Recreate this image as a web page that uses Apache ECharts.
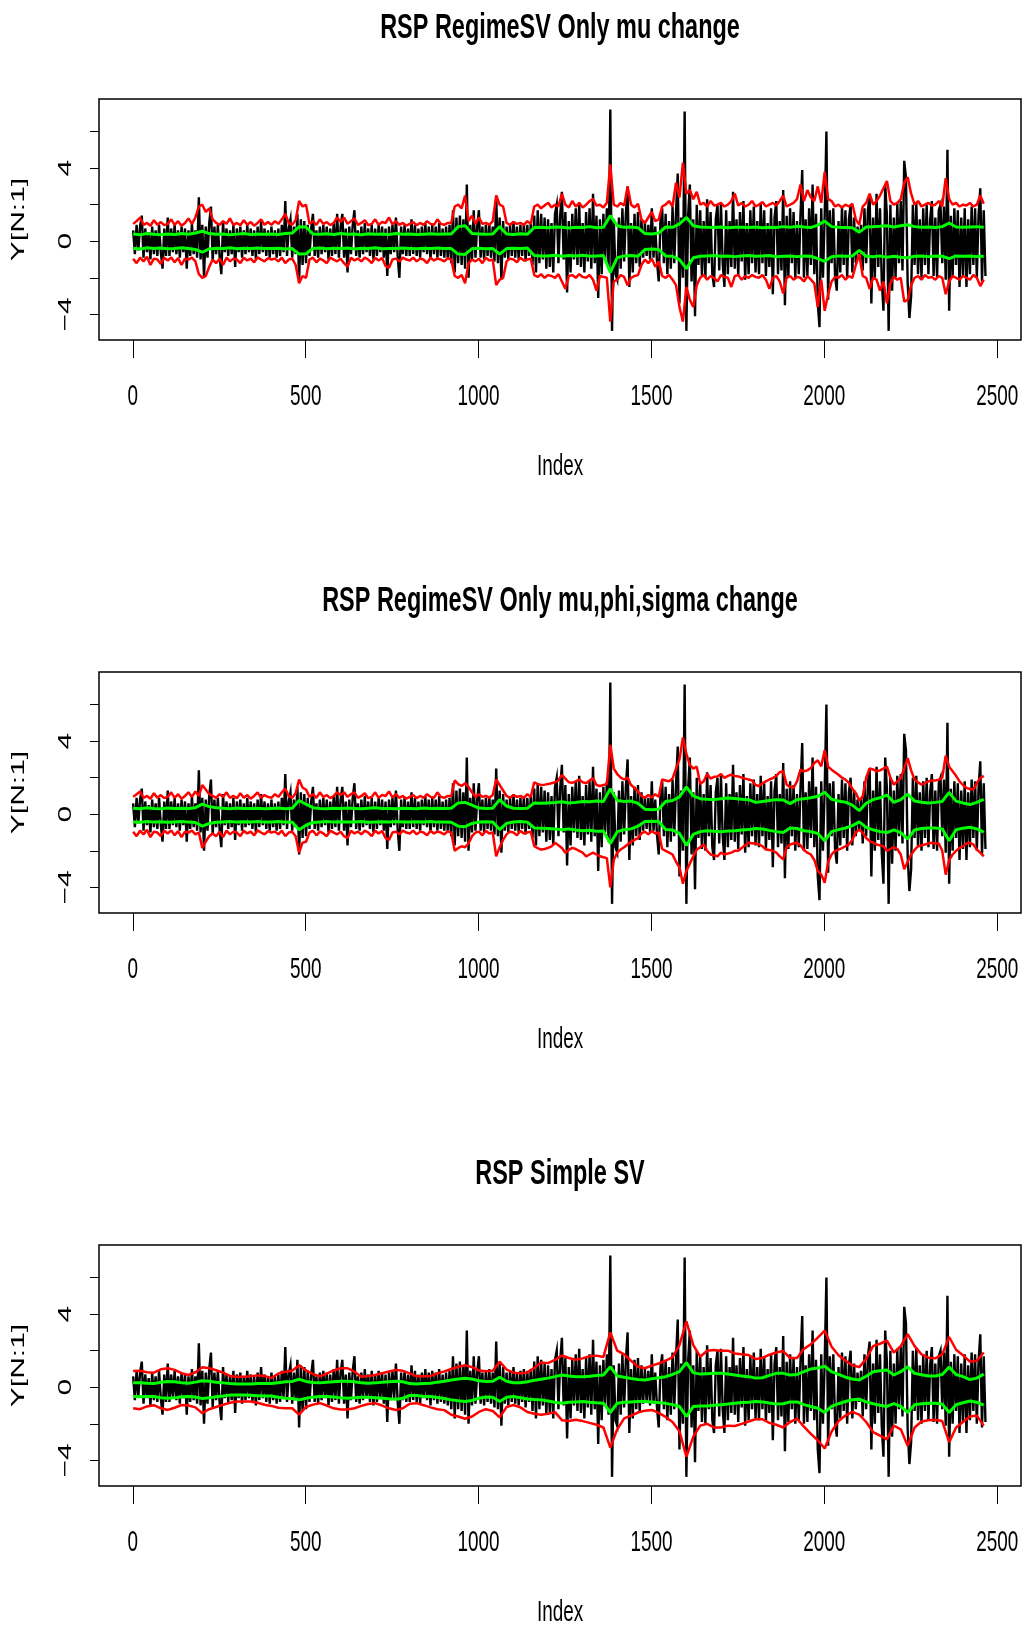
<!DOCTYPE html>
<html><head><meta charset="utf-8">
<script src="https://cdn.jsdelivr.net/npm/echarts@6/dist/echarts.min.js"></script>
<style>html,body{margin:0;padding:0;background:#fff}#c{width:1027px;height:1631px}</style>
</head><body><div id="c"></div>
<script>
// ---------------- DATA ----------------
const titles = ['RSP RegimeSV Only mu change', 'RSP RegimeSV Only mu,phi,sigma change', 'RSP Simple SV'];
const xAxisName = 'Index';
const yAxisName = 'Y[N:1]';
const xTicks = [0, 500, 1000, 1500, 2000, 2500];
const yTicks = [-4, -2, 0, 2, 4, 6];
const yTickLabels = [-4, 0, 4];
const nObs = 2470;

// observed series Y, sampled every 5 indices starting at 1
const blackY = [
0.6,-0.7,0.9,-0.5,0.8,1.4,-0.9,0.7,-0.6,0.5,-1.0,0.8,-0.7,0.6,-0.8,0.9,-0.6,-1.5,0.7,-0.8,
1.3,-0.8,0.7,-0.6,0.9,-0.7,0.6,-0.9,0.8,-0.6,0.7,-1.5,0.6,-0.8,1.0,-0.7,0.6,-0.9,2.4,-1.0,
0.9,-2.0,0.8,-0.9,1.0,1.9,-1.1,0.8,-0.7,0.9,-0.8,-1.8,1.1,-0.6,0.7,-0.8,0.6,-0.7,0.9,-1.4,
0.7,-0.6,0.8,-0.9,0.6,-0.7,0.9,-0.6,0.7,-0.8,0.6,-1.0,0.8,-0.7,1.1,-0.6,0.7,-0.8,0.6,-0.9,
0.8,-0.7,0.6,-0.9,0.7,-0.8,0.9,-0.6,2.2,-0.8,0.7,1.2,-0.9,0.8,-0.7,1.5,-2.2,1.2,-1.3,1.1,
-1.2,0.9,-0.8,0.7,1.5,-0.8,0.6,-0.9,0.8,-0.7,0.9,-0.6,0.8,-1.0,0.7,-0.8,1.0,-0.7,1.5,-0.9,
0.8,1.5,-0.9,0.7,-1.7,0.8,-0.7,0.9,1.7,-0.8,0.6,-0.9,0.8,-0.7,1.0,-0.6,0.7,-0.8,0.9,-1.0,
0.7,-0.8,0.9,-0.6,0.8,-0.9,0.7,-1.9,0.8,-0.7,0.9,-0.6,1.3,-0.8,-2.0,0.8,-0.7,0.9,-0.8,0.7,
-0.8,1.2,-0.7,0.9,-0.8,0.7,-0.9,0.8,-0.6,1.0,-0.7,0.8,-1.0,0.9,-0.7,0.8,-0.9,1.0,-0.8,0.7,
-0.9,0.8,-1.0,0.9,-1.2,1.7,-1.7,1.3,-1.2,1.4,-1.3,1.2,-1.5,3.1,-2.0,0.9,-1.0,1.7,-0.9,0.8,
1.7,-0.9,0.8,-1.0,0.9,-0.8,1.0,-0.9,0.8,-1.1,2.5,-1.2,1.3,-2.1,1.1,-0.9,0.8,-1.0,0.9,-0.8,
1.1,-0.9,0.8,-1.0,0.9,-0.8,1.0,-1.1,0.9,-0.8,1.0,-1.3,1.4,-1.7,1.7,-1.2,1.5,-1.0,1.3,-1.5,
1.2,-1.4,1.0,-1.7,1.5,2.0,-1.2,1.4,2.7,-1.0,1.6,-2.8,1.1,-1.7,1.5,-1.0,1.8,-1.3,2.1,-1.4,
1.0,-1.7,1.6,-1.1,1.8,-1.5,2.6,-1.2,1.4,-3.1,1.2,-1.8,1.5,-1.0,1.8,-1.5,7.2,-4.9,1.2,-1.8,
-2.1,1.3,-1.5,1.8,-1.1,1.5,3.0,-2.5,1.0,-1.7,1.5,-1.2,1.6,-1.4,1.2,-0.9,1.0,-0.8,0.9,-1.0,
1.8,-0.9,0.8,-1.1,-2.2,1.1,1.8,-1.2,1.5,-1.8,1.1,-1.5,1.9,-1.2,1.6,3.7,-3.4,1.3,-2.0,7.1,
-4.9,1.4,3.1,-2.2,1.2,-4.1,2.0,-1.3,1.7,-1.9,1.1,-2.0,2.3,-1.2,1.6,-1.8,-2.5,1.2,2.0,-1.6,
2.1,-1.2,-2.5,1.7,-1.8,1.1,-1.4,2.7,-1.5,1.2,-1.9,1.6,-1.1,2.2,-2.1,1.0,-1.8,1.7,-1.2,1.9,
-1.7,1.1,-1.8,2.1,-1.2,1.7,-1.9,1.0,-1.4,1.8,-2.9,1.3,2.2,-1.8,1.1,-1.6,2.8,-3.5,1.4,-1.9,
1.8,-1.2,1.6,-2.0,1.1,-1.8,1.4,3.9,-2.0,1.2,-1.9,1.8,-1.3,3.1,-1.8,1.5,-3.4,-4.7,1.8,-2.0,
1.4,6.0,-3.2,1.7,-1.2,1.8,-1.9,-2.7,1.1,-1.7,1.9,-1.3,1.7,-2.0,1.2,2.0,-1.7,1.3,-1.2,0.8,
-0.8,0.9,-1.6,1.8,-1.2,1.7,2.5,-3.4,1.3,-2.0,2.6,-1.4,1.8,-2.1,-3.8,3.1,1.4,-4.9,2.0,-2.7,
1.3,-2.0,2.1,-1.2,2.2,-1.6,4.4,3.5,-2.3,-4.2,-3.0,2.0,-1.3,2.1,-1.8,1.2,-2.0,1.8,-1.3,2.0,
-1.8,1.2,2.2,-1.9,1.3,-2.0,1.7,2.0,-1.2,1.9,-2.1,5.0,-3.8,1.4,-2.0,1.8,-1.3,1.7,-2.5,1.3,
-1.9,1.8,-2.5,1.2,-1.8,1.9,-1.3,1.8,-2.0,1.4,2.9,-2.2,1.7,-1.9
];

// Panel 1: red bands every 10 indices, green bands every 20 indices
const p1RedUp = [
0.95,1.1,1.3,0.9,1.0,0.85,1.15,0.9,1.05,0.88,0.95,1.2,0.9,1.1,0.85,1.0,1.25,0.95,1.3,1.9,
2.0,1.6,1.8,1.2,1.0,0.9,1.1,0.95,1.25,0.9,1.0,0.88,1.15,0.9,1.05,0.85,1.0,1.2,0.9,1.05,
0.9,1.1,0.95,1.2,1.5,1.0,0.9,1.15,2.2,1.9,2.0,0.95,1.1,0.9,1.2,0.95,1.05,0.88,1.0,1.3,
1.05,1.3,0.95,1.1,1.25,0.9,1.0,1.15,0.88,0.95,1.2,0.9,1.05,1.0,1.3,0.92,1.1,0.9,1.0,0.85,
0.95,1.05,0.88,1.0,0.9,1.1,0.95,0.9,1.2,0.95,0.9,1.0,1.0,1.9,2.0,1.8,2.5,1.1,1.4,0.95,
1.3,0.95,1.0,0.9,1.1,2.5,2.0,1.9,1.0,0.9,1.05,0.95,1.0,0.9,1.1,0.95,1.9,2.0,1.8,1.95,
2.1,1.85,2.0,1.9,2.6,2.0,1.85,2.2,1.9,2.1,1.85,2.0,2.2,2.3,1.95,2.0,1.85,2.1,4.2,2.0,
1.9,2.1,1.95,3.0,2.0,1.85,2.05,1.2,1.0,1.3,1.6,1.1,1.2,1.9,2.0,2.2,1.9,3.2,2.4,4.3,
2.6,2.8,2.3,2.7,2.0,2.1,1.9,2.2,1.95,2.0,2.1,1.9,2.0,2.2,2.6,1.95,2.1,1.9,2.0,2.2,
1.9,2.0,2.15,1.9,2.0,2.1,1.95,2.2,2.5,1.9,2.0,2.1,2.3,3.1,2.2,2.8,2.4,2.2,3.0,2.1,
3.8,2.3,2.2,1.9,2.0,1.85,2.0,1.9,2.05,1.2,0.9,1.9,2.1,2.6,2.0,2.2,2.5,2.9,3.3,2.2,
2.0,2.1,2.3,3.2,3.5,2.6,2.0,2.2,1.9,2.0,2.1,1.95,2.0,2.2,1.9,3.45,2.3,2.0,2.1,1.9,
2.0,1.95,2.1,1.9,2.0,2.5,2.05
];
const p1RedLo = [
-0.95,-1.2,-0.9,-1.1,-0.85,-1.3,-0.95,-1.0,-1.25,-0.9,-1.05,-0.88,-1.15,-0.92,-1.3,-0.95,-1.0,-0.9,-1.1,-1.8,
-2.0,-1.9,-1.4,-1.0,-1.2,-0.95,-1.3,-0.9,-1.1,-0.95,-1.0,-1.2,-0.9,-1.05,-0.95,-1.15,-0.88,-1.0,-1.1,-0.92,
-1.0,-0.95,-1.1,-0.9,-1.2,-1.0,-0.95,-1.3,-2.3,-1.9,-2.0,-1.0,-0.9,-1.15,-0.95,-1.05,-1.2,-0.9,-1.0,-1.1,
-0.95,-1.2,-1.4,-0.9,-1.05,-0.95,-1.1,-0.9,-1.0,-1.2,-0.9,-1.05,-0.92,-1.35,-1.45,-1.0,-0.95,-1.1,-0.9,-1.0,
-1.05,-0.9,-1.1,-0.95,-1.0,-1.2,-0.9,-1.05,-0.95,-1.0,-1.1,-0.92,-1.0,-1.9,-2.0,-1.85,-2.3,-1.2,-1.0,-1.1,
-0.95,-1.2,-0.9,-1.05,-1.0,-2.4,-2.1,-2.0,-1.1,-0.95,-1.0,-1.15,-0.9,-1.05,-1.0,-0.95,-1.85,-1.95,-1.8,-2.0,
-1.85,-1.9,-2.0,-1.8,-2.2,-2.6,-1.9,-1.85,-2.0,-1.8,-1.95,-2.0,-1.85,-2.1,-2.7,-1.9,-1.95,-2.0,-4.4,-2.2,
-2.1,-1.85,-1.95,-2.4,-2.0,-1.9,-1.85,-1.3,-1.0,-1.2,-0.95,-1.4,-1.1,-1.9,-2.0,-1.85,-2.1,-2.4,-3.6,-4.4,
-2.5,-3.2,-3.6,-2.4,-2.0,-1.85,-2.1,-1.9,-2.0,-2.2,-1.85,-1.95,-2.0,-2.5,-1.9,-1.85,-2.1,-1.9,-2.0,-1.85,
-1.95,-2.0,-1.85,-2.1,-2.6,-2.0,-1.9,-2.2,-2.85,-2.0,-1.9,-2.1,-1.95,-2.0,-2.2,-1.9,-2.1,-2.3,-3.6,-2.1,
-3.8,-2.9,-2.2,-1.95,-2.0,-1.85,-2.1,-1.9,-2.0,-1.3,-0.7,-1.9,-2.0,-2.6,-2.0,-2.1,-2.7,-2.2,-3.4,-2.3,
-1.95,-2.1,-2.0,-3.3,-3.2,-2.4,-2.0,-1.9,-2.1,-1.85,-2.0,-1.95,-2.1,-1.9,-2.0,-2.9,-2.2,-1.9,-2.0,-2.1,
-1.9,-2.0,-2.1,-1.85,-2.0,-2.45,-2.1
];
const p1GreenUp = [
0.4,0.35,0.42,0.38,0.36,0.4,0.37,0.43,0.38,0.45,
0.55,0.42,0.38,0.4,0.36,0.39,0.42,0.37,0.4,0.38,
0.4,0.37,0.42,0.45,0.8,0.78,0.4,0.38,0.41,0.37,
0.42,0.38,0.4,0.36,0.41,0.38,0.4,0.37,0.42,0.38,
0.4,0.37,0.39,0.41,0.38,0.4,0.4,0.8,0.85,0.42,
0.4,0.38,0.4,0.8,0.4,0.37,0.41,0.38,0.75,0.76,
0.74,0.78,0.76,0.72,0.77,0.75,0.8,0.74,0.76,1.4,
0.85,0.76,0.78,0.74,0.42,0.4,0.45,0.78,0.76,0.95,
1.3,0.85,0.78,0.76,0.75,0.78,0.74,0.77,0.76,0.75,
0.78,0.74,0.76,0.75,0.8,0.76,0.82,0.78,0.75,0.88,
1.1,0.8,0.76,0.75,0.74,0.5,0.78,0.8,0.82,0.85,
0.78,0.85,0.9,0.8,0.76,0.78,0.75,0.8,1.0,0.78,
0.76,0.78,0.8,0.76
];
const p1GreenLo = [
-0.38,-0.42,-0.36,-0.4,-0.37,-0.41,-0.39,-0.36,-0.4,-0.45,
-0.6,-0.42,-0.38,-0.4,-0.36,-0.41,-0.38,-0.4,-0.37,-0.39,
-0.4,-0.38,-0.42,-0.4,-0.7,-0.68,-0.4,-0.37,-0.41,-0.38,
-0.4,-0.37,-0.42,-0.38,-0.4,-0.36,-0.41,-0.39,-0.4,-0.37,
-0.39,-0.41,-0.38,-0.4,-0.37,-0.4,-0.4,-0.7,-0.72,-0.4,
-0.38,-0.41,-0.4,-0.7,-0.4,-0.38,-0.4,-0.37,-0.78,-0.8,
-0.8,-0.76,-0.82,-0.78,-0.8,-0.77,-0.82,-0.8,-0.78,-1.7,
-0.9,-0.8,-0.78,-0.82,-0.45,-0.42,-0.45,-0.8,-0.82,-1.0,
-1.5,-0.9,-0.82,-0.8,-0.78,-0.82,-0.8,-0.84,-0.8,-0.78,
-0.82,-0.8,-0.78,-0.85,-0.82,-0.8,-0.84,-0.8,-0.82,-0.95,
-1.1,-0.85,-0.8,-0.82,-0.8,-0.5,-0.82,-0.85,-0.8,-0.88,
-0.82,-0.88,-0.9,-0.82,-0.8,-0.84,-0.8,-0.82,-0.95,-0.8,
-0.82,-0.8,-0.84,-0.82
];

// Panel 2
const p2RedUp = [
0.95,1.1,1.25,0.9,1.0,0.85,1.15,0.9,1.05,0.88,0.95,1.2,0.9,1.1,0.85,1.0,1.2,0.95,1.25,1.0,
1.6,1.35,1.1,1.0,0.9,1.1,0.95,1.2,0.9,1.0,0.88,1.15,0.9,1.05,0.85,1.0,1.2,0.9,1.05,0.95,
0.9,1.1,0.95,1.2,1.4,1.0,0.9,1.15,1.9,1.45,1.35,0.95,1.1,0.9,1.2,0.95,1.05,0.88,1.0,1.2,
1.05,1.2,0.95,1.1,1.2,0.9,1.0,1.15,0.88,0.95,1.2,0.9,1.05,1.0,1.25,0.92,1.1,0.9,1.0,0.85,
0.95,1.05,0.88,1.0,0.9,1.1,0.95,0.9,1.2,0.95,0.9,1.0,1.0,1.85,1.65,1.55,1.7,1.5,1.2,0.95,
1.1,0.95,1.0,0.9,1.05,1.9,1.6,1.3,1.0,0.9,1.05,0.95,1.0,0.9,1.1,0.95,1.75,1.65,1.6,1.62,
1.65,1.7,1.75,1.85,2.15,1.95,1.75,1.72,1.8,1.9,1.75,1.7,1.85,1.98,1.6,1.55,1.6,1.65,3.8,2.5,
2.2,2.0,1.9,2.0,1.6,1.44,1.25,1.0,0.9,1.05,0.92,1.1,0.95,1.9,1.85,1.8,1.95,2.5,3.0,4.2,
3.3,2.7,2.5,2.6,1.65,1.8,2.2,1.95,2.05,2.07,2.2,1.98,2.1,2.16,2.1,2.07,2.0,1.95,1.9,1.85,
1.6,1.55,1.7,1.8,1.9,1.98,2.1,2.3,2.35,1.62,1.5,1.44,1.8,2.44,2.35,2.4,2.53,2.8,2.95,2.62,
3.5,2.6,2.44,2.3,2.16,2.0,1.9,1.71,1.4,1.16,0.75,0.98,2.0,2.5,2.45,2.35,2.4,2.5,2.6,2.0,
1.62,1.8,1.98,2.5,3.07,2.4,1.89,1.75,1.62,1.7,1.8,1.85,1.85,1.89,2.0,3.2,2.6,2.35,2.1,1.8,
1.6,1.44,1.38,1.35,1.7,1.98,2.1
];
const p2RedLo = [
-0.95,-1.2,-0.9,-1.1,-0.85,-1.25,-0.95,-1.0,-1.2,-0.9,-1.05,-0.88,-1.15,-0.92,-1.25,-0.95,-1.0,-0.9,-1.1,-1.0,
-1.85,-1.5,-1.2,-1.05,-1.2,-0.95,-1.25,-0.9,-1.1,-0.95,-1.0,-1.2,-0.9,-1.05,-0.95,-1.15,-0.88,-1.0,-1.1,-0.92,
-1.0,-0.95,-1.1,-0.9,-1.2,-1.0,-0.95,-1.2,-2.1,-1.55,-1.5,-1.0,-0.9,-1.15,-0.95,-1.05,-1.2,-0.9,-1.0,-1.1,
-0.95,-1.2,-1.3,-0.9,-1.05,-0.95,-1.1,-0.9,-1.0,-1.2,-0.9,-1.05,-0.92,-1.3,-1.4,-1.0,-0.95,-1.1,-0.9,-1.0,
-1.05,-0.9,-1.1,-0.95,-1.0,-1.15,-0.9,-1.05,-0.95,-1.0,-1.1,-0.92,-1.0,-2.0,-1.85,-1.75,-1.8,-1.6,-1.2,-1.0,
-0.95,-1.15,-0.9,-1.05,-1.0,-2.3,-1.8,-1.4,-1.1,-0.95,-1.0,-1.15,-0.9,-1.05,-1.0,-0.95,-1.75,-1.85,-1.93,-1.9,
-1.84,-1.75,-1.56,-1.7,-1.85,-2.1,-1.95,-1.84,-1.9,-2.0,-2.1,-2.3,-2.2,-2.1,-2.2,-2.3,-2.35,-2.4,-4.0,-2.5,
-2.1,-1.93,-1.8,-1.65,-1.5,-1.4,-1.3,-1.05,-0.95,-1.1,-0.92,-1.05,-1.0,-1.9,-2.0,-2.1,-2.2,-2.6,-2.9,-3.8,
-3.1,-2.7,-2.3,-1.93,-1.8,-1.65,-2.0,-2.2,-2.25,-2.3,-2.1,-2.2,-2.15,-2.1,-2.0,-2.0,-1.85,-1.7,-1.56,-1.58,
-1.6,-1.65,-1.75,-1.93,-1.95,-2.0,-2.1,-2.3,-2.47,-1.8,-1.65,-1.6,-1.56,-1.7,-1.95,-2.1,-2.2,-2.5,-3.1,-3.3,
-3.75,-2.6,-2.2,-2.0,-1.93,-1.85,-1.75,-1.65,-1.4,-1.0,-0.84,-1.02,-1.3,-1.47,-1.55,-1.65,-1.7,-1.75,-2.0,-1.9,
-1.8,-1.9,-2.2,-3.0,-2.6,-2.2,-1.95,-1.75,-1.7,-1.65,-1.6,-1.56,-1.6,-1.6,-2.0,-3.3,-2.5,-2.2,-2.0,-1.84,
-1.75,-1.6,-1.56,-1.65,-1.93,-2.1,-2.3
];
const p2GreenUp = [
0.33,0.3,0.35,0.32,0.3,0.34,0.31,0.33,0.32,0.36,
0.55,0.42,0.35,0.33,0.3,0.34,0.32,0.31,0.33,0.3,
0.32,0.34,0.3,0.33,0.75,0.55,0.36,0.32,0.3,0.33,
0.31,0.34,0.32,0.3,0.33,0.35,0.31,0.32,0.3,0.33,
0.32,0.3,0.34,0.31,0.33,0.32,0.33,0.62,0.65,0.5,
0.34,0.32,0.33,0.8,0.45,0.33,0.31,0.33,0.62,0.6,
0.62,0.64,0.68,0.62,0.65,0.7,0.68,0.72,0.7,1.4,
0.75,0.7,0.72,0.6,0.28,0.25,0.27,0.7,0.75,0.95,
1.5,1.0,0.85,0.82,0.8,0.85,0.89,0.86,0.82,0.8,
0.65,0.7,0.75,0.8,0.78,0.58,0.8,0.85,0.9,0.98,
1.2,0.82,0.72,0.66,0.5,0.2,0.6,0.8,0.9,1.05,
0.65,0.8,1.1,0.72,0.66,0.62,0.65,0.7,1.2,0.72,
0.62,0.53,0.65,0.82
];
const p2GreenLo = [
-0.42,-0.44,-0.4,-0.43,-0.41,-0.44,-0.42,-0.4,-0.43,-0.45,
-0.65,-0.5,-0.44,-0.42,-0.4,-0.43,-0.41,-0.42,-0.4,-0.43,
-0.42,-0.4,-0.43,-0.44,-0.85,-0.6,-0.45,-0.42,-0.4,-0.43,
-0.41,-0.43,-0.42,-0.4,-0.44,-0.42,-0.41,-0.43,-0.4,-0.42,
-0.43,-0.41,-0.42,-0.4,-0.43,-0.42,-0.44,-0.65,-0.68,-0.5,
-0.43,-0.41,-0.42,-0.84,-0.5,-0.42,-0.4,-0.43,-0.75,-0.76,
-0.78,-0.8,-0.85,-0.8,-0.86,-0.9,-0.88,-0.93,-0.92,-1.6,
-0.95,-0.85,-0.8,-0.65,-0.4,-0.38,-0.4,-0.84,-0.86,-1.05,
-1.7,-1.1,-0.95,-0.9,-0.93,-0.95,-0.92,-0.9,-0.86,-0.84,
-0.78,-0.8,-0.88,-0.95,-1.0,-0.75,-0.78,-0.9,-0.95,-1.05,
-1.45,-0.95,-0.84,-0.75,-0.62,-0.42,-0.72,-0.85,-0.95,-1.0,
-0.85,-1.0,-1.35,-0.86,-0.78,-0.75,-0.75,-0.8,-1.45,-0.85,
-0.76,-0.71,-0.8,-0.98
];

// Panel 3 (every 20 indices)
const p3RedUp = [
0.89,0.9,0.82,0.8,0.98,1.04,0.95,0.77,0.67,0.82,
1.09,1.04,0.93,0.8,0.62,0.58,0.58,0.6,0.65,0.62,
0.5,0.75,0.85,0.9,1.2,0.92,0.72,0.6,0.75,0.92,
1.04,1.04,0.85,0.58,0.62,0.67,0.77,0.86,0.95,0.9,
0.76,0.6,0.6,0.62,0.75,0.87,1.0,1.12,1.2,1.1,
0.92,0.87,0.9,1.4,0.97,0.8,0.76,0.8,1.06,1.35,
1.32,1.5,1.74,1.6,1.5,1.58,1.7,1.73,1.66,3.0,
2.0,1.8,1.45,1.12,1.04,1.18,1.3,1.45,1.65,2.3,
3.6,2.3,1.67,2.0,2.04,2.0,2.0,1.85,1.8,1.76,
1.55,1.6,1.78,1.9,1.98,1.6,1.6,2.1,2.35,2.72,
3.1,2.22,1.75,1.45,1.2,1.1,1.55,2.25,2.38,2.55,
1.9,2.25,2.9,2.25,1.8,1.62,1.58,1.8,2.75,2.05,
1.75,1.4,1.45,1.9
];
const p3RedLo = [
-1.15,-1.2,-1.05,-0.98,-1.15,-1.24,-1.12,-0.97,-1.0,-1.1,
-1.42,-1.2,-1.08,-0.96,-0.85,-0.78,-0.78,-0.78,-0.85,-0.96,
-1.02,-1.12,-1.15,-1.15,-1.5,-1.08,-0.95,-0.87,-1.0,-1.15,
-1.22,-1.22,-1.15,-1.02,-0.92,-0.87,-1.0,-1.15,-1.24,-1.15,
-0.9,-0.87,-0.98,-1.1,-1.2,-1.25,-1.5,-1.6,-1.72,-1.6,
-1.35,-1.2,-1.3,-1.65,-1.08,-0.97,-1.1,-1.35,-1.45,-1.5,
-1.45,-1.36,-1.8,-1.85,-1.78,-1.85,-1.95,-2.05,-2.2,-3.3,
-2.3,-1.7,-1.55,-1.38,-1.28,-1.24,-1.4,-1.62,-1.9,-2.4,
-3.8,-2.7,-2.1,-2.0,-2.2,-2.2,-2.1,-2.12,-2.0,-1.87,
-1.75,-1.75,-1.95,-2.05,-2.2,-1.9,-1.72,-2.15,-2.55,-2.9,
-3.35,-2.42,-1.85,-1.55,-1.35,-1.5,-1.9,-2.45,-2.65,-2.85,
-2.1,-2.3,-3.2,-2.2,-1.87,-1.8,-1.78,-1.85,-3.0,-2.2,
-1.9,-1.6,-1.55,-2.1
];
const p3GreenUp = [
0.25,0.25,0.22,0.2,0.27,0.31,0.3,0.25,0.22,0.28,
0.36,0.33,0.28,0.24,0.2,0.18,0.18,0.18,0.2,0.2,
0.2,0.25,0.3,0.32,0.44,0.32,0.26,0.24,0.27,0.3,
0.33,0.33,0.3,0.24,0.22,0.24,0.27,0.3,0.33,0.3,
0.2,0.18,0.2,0.22,0.28,0.33,0.4,0.45,0.49,0.45,
0.36,0.31,0.33,0.55,0.33,0.25,0.25,0.3,0.38,0.44,
0.5,0.58,0.67,0.62,0.58,0.58,0.6,0.64,0.67,1.12,
0.62,0.55,0.48,0.42,0.4,0.46,0.52,0.58,0.7,0.85,
1.35,0.8,0.72,0.74,0.76,0.76,0.72,0.67,0.62,0.58,
0.5,0.52,0.65,0.76,0.76,0.67,0.7,0.85,1.0,1.05,
1.15,0.85,0.7,0.55,0.45,0.4,0.6,0.85,0.9,0.95,
0.67,0.85,1.12,0.76,0.68,0.62,0.62,0.7,1.1,0.7,
0.58,0.42,0.5,0.72
];
const p3GreenLo = [
-0.51,-0.52,-0.5,-0.5,-0.57,-0.6,-0.58,-0.52,-0.5,-0.53,
-0.62,-0.58,-0.52,-0.48,-0.43,-0.42,-0.42,-0.44,-0.46,-0.48,
-0.48,-0.55,-0.6,-0.62,-0.69,-0.6,-0.54,-0.5,-0.5,-0.53,
-0.58,-0.6,-0.58,-0.55,-0.55,-0.57,-0.6,-0.63,-0.65,-0.6,
-0.45,-0.45,-0.5,-0.51,-0.56,-0.62,-0.69,-0.74,-0.78,-0.72,
-0.6,-0.53,-0.55,-0.78,-0.55,-0.51,-0.57,-0.64,-0.67,-0.69,
-0.75,-0.82,-0.87,-0.82,-0.8,-0.78,-0.82,-0.85,-0.87,-1.38,
-0.87,-0.82,-0.8,-0.78,-0.78,-0.8,-0.84,-0.88,-0.95,-1.05,
-1.6,-1.05,-1.02,-1.02,-0.98,-0.96,-0.92,-0.87,-0.84,-0.82,
-0.78,-0.8,-0.86,-0.91,-0.9,-0.8,-0.8,-0.95,-1.05,-1.15,
-1.38,-1.05,-0.9,-0.78,-0.68,-0.65,-0.8,-0.9,-0.98,-1.05,
-0.9,-1.05,-1.38,-0.96,-0.9,-0.87,-0.87,-0.92,-1.38,-0.96,
-0.85,-0.75,-0.82,-0.98
];

const panels = [
  {redUp: p1RedUp, redLo: p1RedLo, redStep: 10, greenUp: p1GreenUp, greenLo: p1GreenLo, greenStep: 20},
  {redUp: p2RedUp, redLo: p2RedLo, redStep: 10, greenUp: p2GreenUp, greenLo: p2GreenLo, greenStep: 20},
  {redUp: p3RedUp, redLo: p3RedLo, redStep: 20, greenUp: p3GreenUp, greenLo: p3GreenLo, greenStep: 20}
];

// ---------------- LAYOUT ----------------
const W = 1027, H = 1631;
const gridLeft = 99, gridWidth = 922, gridHeight = 241;
const gridTops = [99, 672, 1245];
const xMin = 1 - 0.04 * (nObs - 1), xMax = nObs + 0.04 * (nObs - 1);
const yMin = -5.4, yMax = 7.78;
const FONT = '"Liberation Sans", Arial, Helvetica, sans-serif';
const SQUEEZE = 0.63;

function pts(arr, step) { return arr.map((v, k) => [1 + step * k, v]); }

const chart = echarts.init(document.getElementById('c'), null, {renderer: 'canvas', width: W, height: H});

const grid = [], xAxis = [], yAxis = [], series = [];
gridTops.forEach((t, i) => {
  grid.push({left: gridLeft, top: t, width: gridWidth, height: gridHeight, show: true,
    borderColor: '#000', borderWidth: 1.5, backgroundColor: 'transparent', containLabel: false});
  xAxis.push({type: 'value', gridIndex: i, min: xMin, max: xMax, position: 'bottom',
    axisLine: {show: false, onZero: false}, splitLine: {show: false}, axisLabel: {show: false},
    axisTick: {show: true, inside: false, length: 18, customValues: xTicks, lineStyle: {color: '#000', width: 1}}});
  yAxis.push({type: 'value', gridIndex: i, min: yMin, max: yMax, position: 'left',
    axisLine: {show: false, onZero: false}, splitLine: {show: false}, axisLabel: {show: false},
    axisTick: {show: true, inside: false, length: 9, customValues: yTicks, lineStyle: {color: '#000', width: 1}}});
  const p = panels[i];
  const base = {type: 'line', xAxisIndex: i, yAxisIndex: i, showSymbol: false, symbol: 'none',
    silent: true, animation: false, clip: true};
  series.push(Object.assign({}, base, {data: pts(blackY, 5), lineStyle: {color: '#000', width: 2.4, join: 'miter'}, z: 2}));
  series.push(Object.assign({}, base, {data: pts(p.redUp, p.redStep), lineStyle: {color: '#ff0000', width: 2.5}, z: 3}));
  series.push(Object.assign({}, base, {data: pts(p.redLo, p.redStep), lineStyle: {color: '#ff0000', width: 2.5}, z: 3}));
  series.push(Object.assign({}, base, {data: pts(p.greenUp, p.greenStep), lineStyle: {color: '#00ff00', width: 3}, z: 4}));
  series.push(Object.assign({}, base, {data: pts(p.greenLo, p.greenStep), lineStyle: {color: '#00ff00', width: 3}, z: 4}));
});

chart.setOption({backgroundColor: '#fff', animation: false, grid, xAxis, yAxis, series});

// text (titles, tick labels, axis names) placed through the axes' own scales
const g = [];
function txt(x, y, text, size, opts) {
  return Object.assign({type: 'text', x, y, silent: true, z: 100,
    style: {text: text, font: (opts && opts.bold ? 'bold ' : '') + size + 'px ' + FONT, fill: '#000',
      textAlign: 'center', textVerticalAlign: 'middle', align: 'center', verticalAlign: 'middle'}},
    opts && opts.tf ? opts.tf : {});
}
gridTops.forEach((t, i) => {
  const bottom = t + gridHeight;
  g.push(txt(gridLeft + gridWidth / 2, t - 71, titles[i], 35, {bold: true, tf: {scaleX: 0.67}}));
  xTicks.forEach(v => {
    const px = chart.convertToPixel({xAxisIndex: i}, v);
    g.push(txt(px, bottom + 57, String(v), 30, {tf: {scaleX: SQUEEZE}}));
  });
  g.push(txt(gridLeft + gridWidth / 2, bottom + 127, xAxisName, 30, {tf: {scaleX: SQUEEZE}}));
  yTickLabels.forEach(v => {
    const py = chart.convertToPixel({yAxisIndex: i}, v);
    const s = v < 0 ? '\u2212' + Math.abs(v) : String(v);
    g.push(txt(65.5, py, s, 30, {tf: {rotation: Math.PI / 2, scaleY: SQUEEZE}}));
  });
  g.push(txt(19, t + gridHeight / 2, yAxisName, 30, {tf: {rotation: Math.PI / 2, scaleY: SQUEEZE}}));
});
chart.setOption({graphic: {elements: g}});
</script>
</body></html>
